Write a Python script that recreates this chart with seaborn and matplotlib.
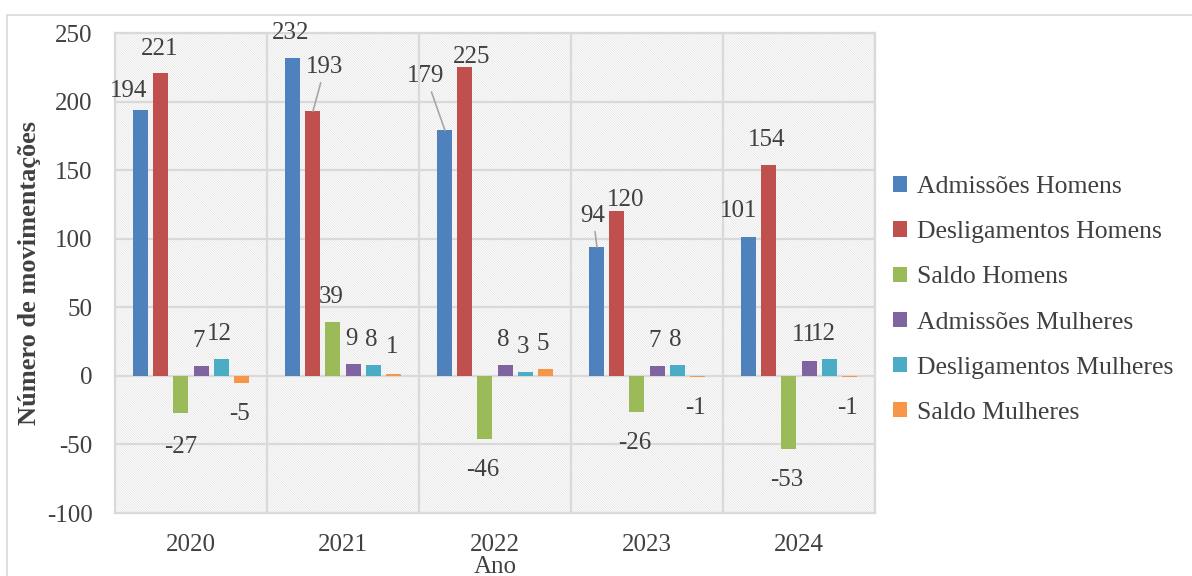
import pandas as pd
import numpy as np
import matplotlib.pyplot as plt
import seaborn as sns
from matplotlib.patches import Rectangle

# ── Dados
anos = ['2020', '2021', '2022', '2023', '2024']
admissoes_homens = [194, 232, 179, 94, 101]
desligamentos_homens = [221, 193, 225, 120, 154]
saldo_homens = [-27, 39, -46, -26, -53]
admissoes_mulheres = [7, 9, 8, 7, 11]
desligamentos_mulheres = [12, 8, 3, 8, 12]
saldo_mulheres = [-5, 1, 5, -1, -1]

series = ['Admissões Homens', 'Desligamentos Homens', 'Saldo Homens',
          'Admissões Mulheres', 'Desligamentos Mulheres', 'Saldo Mulheres']
cores = ['#4F81BD', '#C0504D', '#9BBB59', '#8064A2', '#4BACC6', '#F79646']

df = pd.DataFrame({
    'Ano': anos,
    series[0]: admissoes_homens,
    series[1]: desligamentos_homens,
    series[2]: saldo_homens,
    series[3]: admissoes_mulheres,
    series[4]: desligamentos_mulheres,
    series[5]: saldo_mulheres,
}).melt(id_vars='Ano', var_name='serie', value_name='valor')

# ── Estilo
sns.set_theme(style='white')
plt.rcParams['font.family'] = ['Liberation Serif', 'DejaVu Serif']
plt.rcParams['axes.unicode_minus'] = False
plt.rcParams['hatch.linewidth'] = 0.5
cinza_txt = '#404040'
cinza_grade = '#d9d9d9'
fs = 18

fig = plt.figure(figsize=(11.92, 5.76), dpi=100)
ax = fig.add_axes([115 / 1192, 63 / 576, 760 / 1192, 480 / 576])

# fundo hachurado
ax.add_patch(Rectangle((0, 0), 1, 1, transform=ax.transAxes, facecolor='white',
                       edgecolor='#e2e2e2', hatch='\\' * 14, linewidth=0, zorder=0.1))

sns.barplot(data=df, x='Ano', y='valor', hue='serie', hue_order=series,
            palette=cores, width=0.79, gap=0.25, saturation=1, linewidth=0,
            ax=ax, zorder=3)

ax.set_ylim(-100, 250)
ax.set_xlim(-0.5, len(anos) - 0.5)
ax.set_yticks(np.arange(-100, 251, 50))
ax.set_xticks(np.arange(len(anos)) + 0.5, minor=True)
ax.set_axisbelow(True)
ax.grid(axis='y', color=cinza_grade, lw=1.6)
ax.grid(axis='x', which='minor', color=cinza_grade, lw=1.6)
ax.grid(axis='x', which='major', visible=False)
for s in ax.spines.values():
    s.set_color(cinza_grade)
    s.set_linewidth(1.6)
ax.tick_params(axis='both', which='both', length=0, labelsize=fs, labelcolor=cinza_txt)
ax.tick_params(axis='y', pad=16)
ax.tick_params(axis='x', pad=15)

ax.set_ylabel('Número de movimentações', fontsize=19, fontweight='bold', color=cinza_txt)
ax.yaxis.set_label_coords(-0.097, 0.5)
ax.set_xlabel('Ano', fontsize=fs, color=cinza_txt)
ax.xaxis.set_label_coords(0.5, -0.1125)
ax.xaxis.label.set_va('center')

# ── Rótulos de dados (deslocamentos em pixels, y para cima)
desloc = {
    (0, 0): (-12, 19), (0, 1): (-1, 24), (0, 2): (0, -34),
    (1, 1): (12, 44), (1, 5): (-1, 27),
    (2, 0): (-19, 54), (2, 1): (7, 10),
    (3, 0): (-4, 31), (3, 1): (9, 11),
    (4, 0): (-10, 26), (4, 3): (-5, 26), (4, 4): (-6, 25),
}
com_linha = {(1, 1), (2, 0), (3, 0)}
k = 72 / 100
for si, cont in enumerate(ax.containers):
    for ci, (bar, v) in enumerate(zip(cont, cont.datavalues)):
        x = bar.get_x() + bar.get_width() / 2
        dx, dy = desloc.get((ci, si), (-2, 25) if v >= 0 else (-2, -31))
        arrow = dict(arrowstyle='-', color='#a6a6a6', lw=1.2, shrinkA=1, shrinkB=0) \
            if (ci, si) in com_linha else None
        ax.annotate(f'{int(v)}', xy=(x, v), xytext=(dx * k, dy * k),
                    textcoords='offset points', ha='center', va='center',
                    fontsize=fs, color=cinza_txt, arrowprops=arrow, zorder=5)

# ── Legenda
handles, labels = ax.get_legend_handles_labels()
ax.legend(handles, labels, loc='center left', bbox_to_anchor=(893 / 1192, 1 - 300 / 576),
          bbox_transform=fig.transFigure, frameon=False, fontsize=18.5,
          labelcolor=cinza_txt, handlelength=0.55, handleheight=0.55,
          handletextpad=0.4, labelspacing=0.9, borderpad=0, borderaxespad=0)

# moldura externa
fig.patches.append(Rectangle((7 / 1192, -0.05), 1.2, 1.05 - 15 / 576, transform=fig.transFigure,
                             fill=False, edgecolor=cinza_grade, lw=1.2))

fig.savefig('out.png', dpi=100)
plt.close()
